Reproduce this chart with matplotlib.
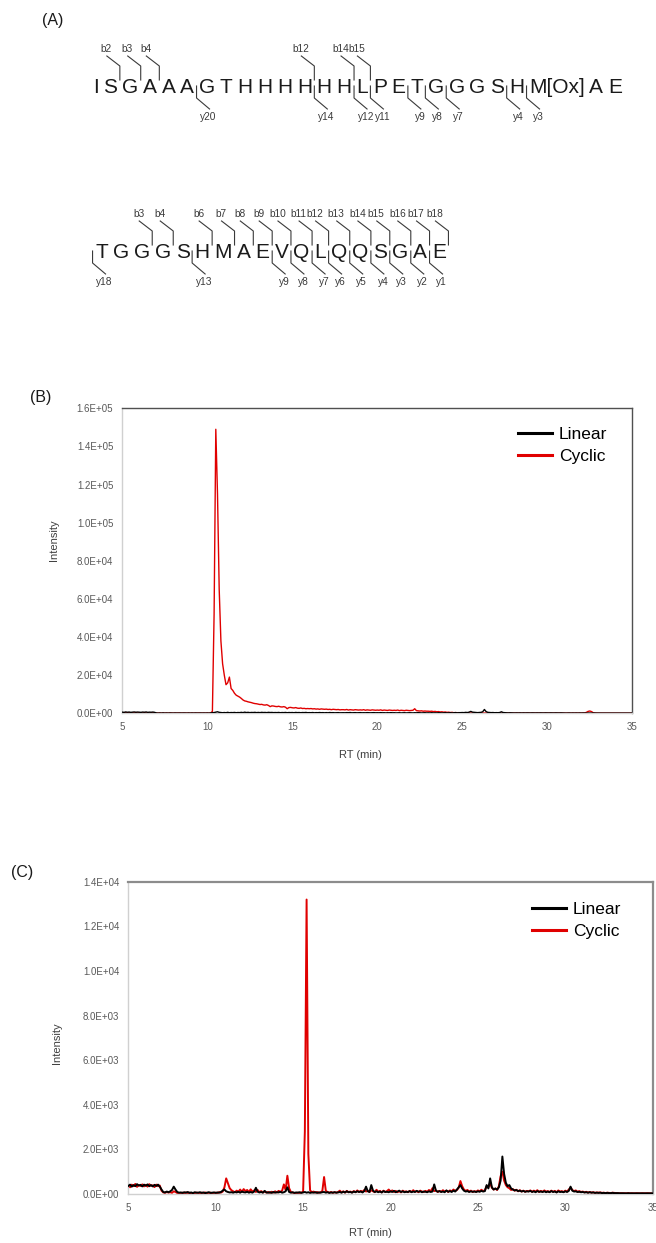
import numpy as np
import matplotlib
matplotlib.use('Agg')
import matplotlib.pyplot as plt
from matplotlib.font_manager import FontProperties
from matplotlib.ticker import FuncFormatter

plt.rcParams['font.family'] = ['Liberation Sans', 'DejaVu Sans']

# ---- panel A: peptide sequences and the fragment ions that were observed
seq1 = 'I S G A A A G T H H H H H H L P E T G G G S H M[Ox] A E'.split()
seq1_b = [2, 3, 4, 12, 14, 15]
seq1_y = [20, 14, 12, 11, 9, 8, 7, 4, 3]
seq2 = 'T G G G S H M A E V Q L Q Q S G A E'.split()
seq2_b = [3, 4, 6, 7, 8, 9, 10, 11, 12, 13, 14, 15, 16, 17, 18]
seq2_y = [18, 13, 9, 8, 7, 6, 5, 4, 3, 2, 1]

# ---- panels B and C: ion chromatograms, one reading every 0.1 min (5 -> 35 min)
rt = np.round(np.arange(5.0, 35.05, 0.1), 1)

b_linear = [
    600, 500, 700, 550, 650, 500, 600, 700, 550, 650,   # 5
    600, 500, 650, 550, 700, 500, 600, 550, 650, 500,   # 6
    200, 100, 150, 100, 200, 100, 150, 100, 150, 100,   # 7
    100, 150, 100, 100, 150, 100, 150, 100, 100, 150,   # 8
    100, 150, 100, 150, 100, 100, 150, 100, 150, 100,   # 9
    150, 100, 200, 300, 400, 600, 800, 500, 400, 300,   # 10
    400, 300, 500, 300, 400, 350, 450, 300, 400, 350,   # 11
    500, 350, 600, 400, 500, 350, 450, 400, 500, 350,   # 12
    450, 350, 500, 400, 450, 350, 500, 400, 450, 350,   # 13
    400, 350, 450, 300, 400, 350, 450, 300, 400, 350,   # 14
    400, 300, 450, 350, 400, 300, 400, 350, 450, 300,   # 15
    350, 300, 400, 250, 350, 300, 400, 300, 350, 250,   # 16
    350, 250, 400, 300, 350, 250, 300, 350, 250, 300,   # 17
    300, 250, 350, 300, 400, 250, 300, 350, 250, 300,   # 18
    350, 250, 300, 250, 350, 300, 250, 300, 350, 250,   # 19
    300, 250, 350, 250, 300, 200, 300, 250, 350, 250,   # 20
    300, 200, 250, 300, 200, 250, 300, 200, 250, 300,   # 21
    250, 200, 300, 250, 350, 250, 200, 250, 300, 200,   # 22
    250, 200, 300, 200, 250, 200, 300, 250, 200, 250,   # 23
    300, 200, 250, 300, 200, 250, 350, 250, 300, 350,   # 24
    400, 350, 500, 400, 600, 1000, 600, 500, 400, 350,  # 25
    400, 500, 800, 2000, 900, 500, 400, 350, 400, 300,  # 26
    350, 300, 400, 800, 400, 300, 250, 200, 250, 200,   # 27
    200, 150, 200, 150, 200, 150, 200, 150, 200, 150,   # 28
    150, 200, 150, 150, 200, 150, 200, 150, 150, 200,   # 29
    150, 150, 200, 150, 150, 200, 150, 150, 200, 150,   # 30
    150, 100, 150, 150, 100, 150, 100, 150, 100, 150,   # 31
    100, 150, 100, 100, 150, 100, 100, 150, 100, 100,   # 32
    100, 100, 150, 100, 100, 100, 150, 100, 100, 100,   # 33
    100, 100, 100, 150, 100, 100, 100, 100, 150, 100,   # 34
    100]

b_cyclic = [
    300, 200, 400, 250, 350, 200, 300, 250, 400, 200,   # 5
    300, 250, 200, 350, 250, 300, 200, 250, 300, 200,   # 6
    150, 100, 200, 100, 150, 100, 150, 100, 200, 150,   # 7
    100, 150, 100, 200, 100, 150, 100, 150, 100, 150,   # 8
    100, 150, 100, 150, 100, 200, 100, 150, 100, 150,   # 9
    150, 100, 200, 1000, 52000, 149000, 115000, 65000, 38000, 26000,  # 10
    20000, 15000, 16000, 19000, 13000, 12000, 10500, 9500, 9000, 8500,  # 11
    7800, 7000, 6500, 6300, 6000, 5800, 5600, 5300, 5100, 5000,  # 12
    4800, 4600, 4700, 4400, 4300, 4500, 4100, 3500, 3900, 3800,  # 13
    3600, 3500, 3700, 3400, 3300, 3500, 3200, 2400, 3000, 3100,  # 14
    2900, 2800, 3000, 2700, 2600, 2800, 2500, 2600, 2400, 2500,  # 15
    2400, 2500, 2300, 2400, 2200, 2300, 2100, 2300, 2200, 2100,  # 16
    2200, 2000, 2100, 1900, 2100, 2000, 1900, 2000, 1800, 1900,  # 17
    1900, 1800, 2000, 1700, 1900, 1800, 1700, 1900, 1800, 1700,  # 18
    1800, 1700, 1900, 1600, 1800, 1700, 1600, 1800, 1700, 1600,  # 19
    1700, 1600, 1800, 1500, 1700, 1600, 1500, 1700, 1600, 1500,  # 20
    1600, 1500, 1700, 1400, 1600, 1500, 1400, 1600, 1500, 1400,  # 21
    1500, 1600, 2400, 1400, 1300, 1200, 1300, 1100, 1200, 1100,  # 22
    1100, 1000, 1100, 900, 1000, 800, 900, 700, 800, 600,        # 23
    700, 500, 600, 400, 500, 300, 400, 300, 350, 250,            # 24
    300, 200, 250, 200, 250, 150, 200, 150, 200, 150,            # 25
    200, 150, 200, 150, 200, 150, 200, 150, 200, 150,            # 26
    150, 100, 150, 100, 150, 100, 150, 100, 150, 100,            # 27
    100, 150, 100, 150, 100, 100, 150, 100, 100, 150,            # 28
    100, 100, 150, 100, 100, 150, 100, 100, 150, 100,            # 29
    100, 150, 100, 100, 150, 100, 100, 150, 100, 100,            # 30
    100, 100, 150, 100, 100, 100, 150, 100, 100, 100,            # 31
    100, 150, 200, 500, 1000, 1200, 900, 300, 150, 100,          # 32
    100, 100, 50, 100, 50, 100, 50, 100, 50, 100,                # 33
    50, 100, 50, 50, 100, 50, 50, 100, 50, 50,                   # 34
    50]

c_linear = [
    360, 420, 330, 400, 350, 440, 380, 410, 340, 420,   # 5
    370, 430, 350, 400, 340, 410, 360, 420, 330, 200,   # 6
    90, 70, 110, 80, 120, 180, 330, 200, 90, 60,        # 7
    70, 50, 80, 60, 90, 50, 70, 40, 80, 60,             # 8
    60, 80, 50, 70, 40, 60, 80, 50, 60, 70,             # 9
    50, 70, 60, 90, 150, 200, 120, 90, 70, 80,          # 10
    60, 90, 70, 100, 60, 110, 80, 70, 100, 60,          # 11
    90, 60, 110, 280, 100, 70, 90, 60, 140, 70,         # 12
    60, 80, 50, 90, 60, 80, 70, 100, 60, 80,            # 13
    120, 300, 90, 60, 80, 50, 70, 60, 80, 50,           # 14
    70, 90, 60, 80, 50, 70, 60, 80, 50, 70,             # 15
    60, 80, 90, 60, 80, 50, 70, 60, 80, 60,             # 16
    70, 90, 60, 100, 70, 120, 80, 90, 60, 110,          # 17
    80, 120, 90, 110, 70, 130, 330, 120, 90, 400,       # 18
    150, 90, 120, 80, 110, 70, 130, 90, 100, 80,        # 19
    120, 90, 140, 80, 110, 150, 90, 120, 80, 100,       # 20
    90, 130, 80, 110, 90, 140, 100, 120, 80, 110,       # 21
    100, 80, 120, 90, 110, 430, 150, 100, 130, 90,      # 22
    110, 80, 160, 100, 130, 90, 150, 110, 200, 300,     # 23
    400, 250, 150, 110, 130, 90, 120, 100, 110, 90,     # 24
    120, 100, 140, 110, 130, 400, 250, 700, 300, 200,   # 25
    250, 200, 300, 600, 1680, 900, 500, 350, 400, 250,  # 26
    200, 160, 180, 130, 150, 110, 140, 100, 120, 110,   # 27
    140, 90, 120, 80, 130, 100, 110, 90, 120, 80,       # 28
    110, 80, 130, 90, 110, 70, 120, 90, 100, 80,        # 29
    120, 90, 140, 330, 150, 110, 120, 90, 100, 80,      # 30
    90, 70, 80, 60, 80, 60, 70, 50, 60, 50,             # 31
    60, 40, 50, 40, 50, 40, 40, 50, 40, 40,             # 32
    40, 35, 30, 35, 30, 30, 35, 30, 30, 30,             # 33
    30, 30, 30, 30, 30, 30, 30, 30, 30, 30,             # 34
    30]

c_cyclic = [
    380, 300, 420, 350, 450, 320, 400, 360, 430, 340,   # 5
    410, 330, 440, 370, 390, 310, 420, 350, 380, 150,   # 6
    70, 50, 90, 60, 80, 50, 120, 90, 40, 50,            # 7
    40, 60, 30, 70, 40, 60, 30, 50, 40, 60,             # 8
    50, 30, 60, 40, 70, 40, 50, 60, 30, 50,             # 9
    60, 40, 80, 60, 110, 300, 700, 480, 260, 170,       # 10
    120, 80, 150, 100, 200, 90, 220, 130, 180, 90,      # 11
    210, 110, 160, 90, 180, 80, 130, 70, 110, 60,       # 12
    90, 50, 100, 60, 120, 70, 140, 90, 150, 430,        # 13
    180, 820, 260, 90, 60, 50, 40, 60, 40, 70,          # 14
    90, 2800, 13200, 1800, 160, 80, 110, 60, 90, 50,    # 15
    80, 130, 760, 140, 90, 60, 90, 50, 80, 60,          # 16
    90, 150, 70, 120, 60, 140, 80, 110, 70, 130,        # 17
    80, 160, 90, 140, 100, 180, 110, 150, 90, 170,      # 18
    120, 80, 190, 100, 140, 70, 150, 90, 130, 200,      # 19
    110, 160, 90, 140, 80, 130, 70, 150, 100, 120,      # 20
    80, 140, 90, 170, 100, 130, 80, 150, 110, 90,       # 21
    140, 100, 180, 120, 260, 130, 160, 90, 140, 100,    # 22
    170, 110, 150, 90, 160, 120, 200, 140, 180, 280,    # 23
    580, 350, 200, 140, 180, 110, 150, 90, 130, 100,    # 24
    160, 120, 190, 130, 170, 350, 300, 500, 280, 200,   # 25
    240, 180, 350, 800, 1000, 600, 400, 300, 260, 180,  # 26
    220, 150, 190, 120, 170, 110, 150, 100, 140, 120,   # 27
    160, 100, 150, 110, 170, 90, 140, 100, 160, 110,    # 28
    130, 90, 150, 100, 140, 80, 160, 110, 130, 90,      # 29
    150, 110, 200, 280, 180, 130, 160, 100, 130, 90,    # 30
    110, 70, 100, 60, 90, 60, 80, 50, 70, 60,           # 31
    70, 50, 60, 40, 60, 50, 40, 60, 50, 40,             # 32
    40, 30, 40, 30, 35, 30, 40, 30, 35, 30,             # 33
    30, 35, 30, 30, 35, 30, 30, 35, 30, 30,             # 34
    30]

W, H = 656, 1243
fig = plt.figure(figsize=(W / 100, H / 100), dpi=100)

# whole-figure overlay in pixel units, used for panel A and the panel letters
axA = fig.add_axes([0, 0, 1, 1])
axA.set_xlim(0, W)
axA.set_ylim(H, 0)
axA.axis('off')

renderer = fig.canvas.get_renderer()
seq_font = FontProperties(family='Liberation Sans', size=15)
ion_color = '#3a3a3a'


def ink_width(s):
    return renderer.get_text_width_height_descent(s, seq_font, ismath=False)[0]


def draw_sequence(residues, b_ions, y_ions, x0, x1, base):
    widths = [ink_width(r) for r in residues]
    gap = (x1 - x0 - sum(widths)) / (len(residues) - 1)
    xs = x0 + np.concatenate([[0], np.cumsum(np.array(widths[:-1]) + gap)])
    for x, r in zip(xs, residues):
        axA.text(x, base, r, fontproperties=seq_font, ha='left', va='baseline', color='#1a1a1a')

    def cut(n):
        if n == 0:
            return xs[0] - gap / 2
        return xs[n - 1] + widths[n - 1] + gap / 2

    for n in b_ions:
        xc = cut(n)
        axA.plot([xc - 13, xc, xc], [base - 37, base - 27, base - 13], color=ion_color, lw=0.8)
        axA.text(xc - 13.5, base - 44, f'b{n}', fontsize=7.3, ha='center', va='center', color=ion_color)
    N = len(residues)
    for n in y_ions:
        xc = cut(N - n)
        axA.plot([xc, xc, xc + 13], [base - 7, base + 5, base + 16], color=ion_color, lw=0.8)
        axA.text(xc + 12, base + 24, f'y{n}', fontsize=7.3, ha='center', va='center', color=ion_color)


draw_sequence(seq1, seq1_b, seq1_y, 93, 622, 93)
draw_sequence(seq2, seq2_b, seq2_y, 95, 446, 258)

for lab, x, y in [('(A)', 42, 20), ('(B)', 30, 397), ('(C)', 11, 872)]:
    axA.text(x, y, lab, fontsize=11.5, ha='left', va='center', color='#1a1a1a')


def chrom_axes(rect, ymax, ystep, frame_color, frame_lw):
    ax = fig.add_axes([rect[0] / W, 1 - rect[3] / H, (rect[2] - rect[0]) / W, (rect[3] - rect[1]) / H])
    ax.set_xlim(5, 35)
    ax.set_ylim(0, ymax)
    ax.set_xticks(range(5, 36, 5))
    ax.set_yticks(np.arange(0, ymax + ystep / 2, ystep))
    ax.yaxis.set_major_formatter(FuncFormatter(lambda v, p: f'{v:.1E}'))
    ax.tick_params(length=0, labelsize=7, labelcolor='#595959', pad=6.5)
    for s in ['top', 'right']:
        ax.spines[s].set_color(frame_color)
        ax.spines[s].set_linewidth(frame_lw)
    for s in ['left', 'bottom']:
        ax.spines[s].set_color('#d0d0d0')
        ax.spines[s].set_linewidth(1.0)
    return ax


def add_legend(ax, anchor):
    h, l = ax.get_legend_handles_labels()
    leg = ax.legend(h[::-1], l[::-1], loc='upper left', bbox_to_anchor=anchor, frameon=False,
                    fontsize=12.5, handlelength=1.95, handletextpad=0.4, labelspacing=0.38,
                    borderpad=0, borderaxespad=0)
    for line in leg.get_lines():
        line.set_linewidth(2.2)


# (B)
axB = chrom_axes((122.3, 408.3, 632.3, 713.3), 1.6e5, 2e4, '#505050', 1.0)
axB.plot(rt, b_cyclic, color='#e00000', lw=1.0, label='Cyclic', zorder=2)
axB.plot(rt, b_linear, color='black', lw=1.0, label='Linear', zorder=3)
add_legend(axB, (0.776, 0.939))
fig.text(54 / W, 1 - 540 / H, 'Intensity', rotation=90, ha='center', va='center', fontsize=8, color='#404040')
fig.text(360 / W, 1 - 755 / H, 'RT (min)', ha='center', va='center', fontsize=8, color='#404040')

# (C)
axC = chrom_axes((128.3, 881.7, 652.7, 1194.0), 1.4e4, 2e3, '#8c8c8c', 1.6)
axC.plot(rt, c_cyclic, color='#e00000', lw=1.4, label='Cyclic', zorder=2)
axC.plot(rt, c_linear, color='black', lw=1.4, label='Linear', zorder=3)
add_legend(axC, (0.77, 0.935))
fig.text(57 / W, 1 - 1043 / H, 'Intensity', rotation=90, ha='center', va='center', fontsize=8, color='#404040')
fig.text(370 / W, 1 - 1233 / H, 'RT (min)', ha='center', va='center', fontsize=8, color='#404040')

fig.savefig('out.png', dpi=100)
